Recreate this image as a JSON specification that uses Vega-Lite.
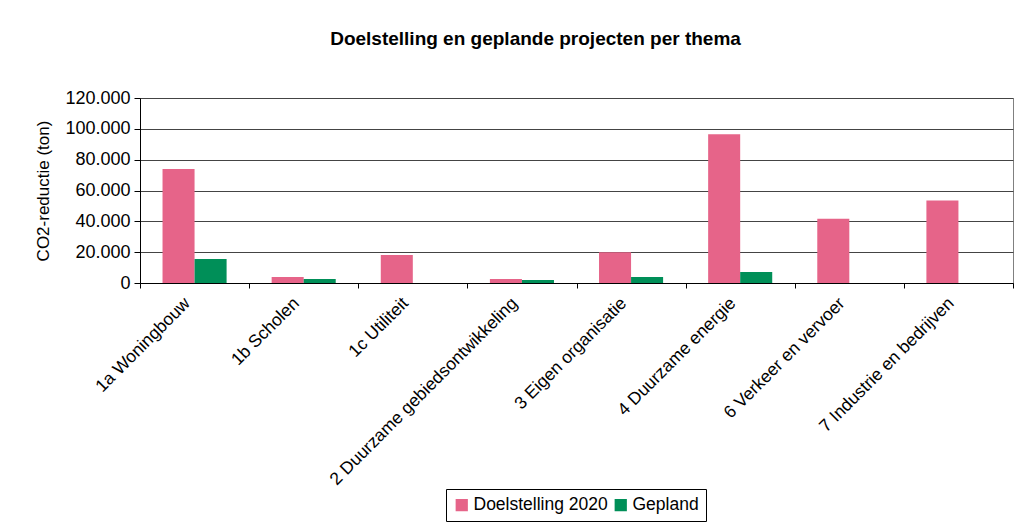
{
  "$schema": "https://vega.github.io/schema/vega-lite/v6.json",
  "width": 873,
  "height": 185,
  "autosize": {"type": "none"},
  "padding": {"left": 140, "top": 98, "right": 3, "bottom": 246},
  "background": "white",
  "config": {
    "locale": {"number": {"decimal": ",", "thousands": ".", "grouping": [3], "currency": ["€", ""]}},
    "font": "Liberation Sans",
    "view": {"stroke": "#808080", "strokeWidth": 1}
  },
  "title": {
    "text": "Doelstelling en geplande projecten per thema",
    "font": "Liberation Sans",
    "fontSize": 19,
    "fontWeight": "bold",
    "color": "black",
    "anchor": "middle",
    "dx": -41,
    "offset": 40
  },
  "data": {
    "values": [
      {"thema": "1a Woningbouw", "serie": "Doelstelling 2020", "waarde": 74000},
      {"thema": "1a Woningbouw", "serie": "Gepland", "waarde": 15600},
      {"thema": "1b Scholen", "serie": "Doelstelling 2020", "waarde": 3900},
      {"thema": "1b Scholen", "serie": "Gepland", "waarde": 2600},
      {"thema": "1c Utiliteit", "serie": "Doelstelling 2020", "waarde": 18200},
      {"thema": "1c Utiliteit", "serie": "Gepland", "waarde": 0},
      {"thema": "2 Duurzame gebiedsontwikkeling", "serie": "Doelstelling 2020", "waarde": 2600},
      {"thema": "2 Duurzame gebiedsontwikkeling", "serie": "Gepland", "waarde": 2000},
      {"thema": "3 Eigen organisatie", "serie": "Doelstelling 2020", "waarde": 20000},
      {"thema": "3 Eigen organisatie", "serie": "Gepland", "waarde": 3900},
      {"thema": "4 Duurzame energie", "serie": "Doelstelling 2020", "waarde": 96500},
      {"thema": "4 Duurzame energie", "serie": "Gepland", "waarde": 7200},
      {"thema": "6 Verkeer en vervoer", "serie": "Doelstelling 2020", "waarde": 41700},
      {"thema": "6 Verkeer en vervoer", "serie": "Gepland", "waarde": 0},
      {"thema": "7 Industrie en bedrijven", "serie": "Doelstelling 2020", "waarde": 53500},
      {"thema": "7 Industrie en bedrijven", "serie": "Gepland", "waarde": 0}
    ]
  },
  "mark": {"type": "bar"},
  "encoding": {
    "x": {
      "field": "thema",
      "type": "nominal",
      "sort": null,
      "scale": {"paddingInner": 0, "paddingOuter": 0},
      "axis": {
        "title": null,
        "labelAngle": -45,
        "labelFontSize": 17.5,
        "labelColor": "black",
        "labelPadding": 6,
        "labelOffset": -14,
        "tickBand": "extent",
        "tickColor": "black",
        "tickSize": 5,
        "domainColor": "black",
        "labelLimit": 400
      }
    },
    "xOffset": {"field": "serie", "sort": null, "scale": {"paddingInner": 0, "paddingOuter": 0.703}},
    "y": {
      "field": "waarde",
      "type": "quantitative",
      "scale": {"domain": [0, 120000], "nice": false},
      "axis": {
        "title": "CO2-reductie (ton)",
        "titleFontSize": 17,
        "titleFontWeight": "normal",
        "titleColor": "black",
        "titlePadding": 12,
        "values": [0, 20000, 40000, 60000, 80000, 100000, 120000],
        "format": ",d",
        "labelFontSize": 18,
        "labelColor": "black",
        "labelPadding": 4,
        "tickColor": "black",
        "tickSize": 6,
        "domainColor": "black",
        "grid": true,
        "gridColor": "#444444",
        "gridOpacity": 1
      }
    },
    "color": {
      "field": "serie",
      "type": "nominal",
      "sort": null,
      "scale": {"domain": ["Doelstelling 2020", "Gepland"], "range": ["#E66489", "#008F58"]},
      "legend": {
        "title": null,
        "orient": "none",
        "legendX": 306,
        "legendY": 391,
        "direction": "horizontal",
        "symbolType": "square",
        "symbolSize": 150,
        "symbolStrokeWidth": 0,
        "labelFontSize": 17.5,
        "labelColor": "black",
        "labelOffset": 3,
        "strokeColor": "black",
        "padding": 7,
        "columnPadding": 4
      }
    }
  }
}
